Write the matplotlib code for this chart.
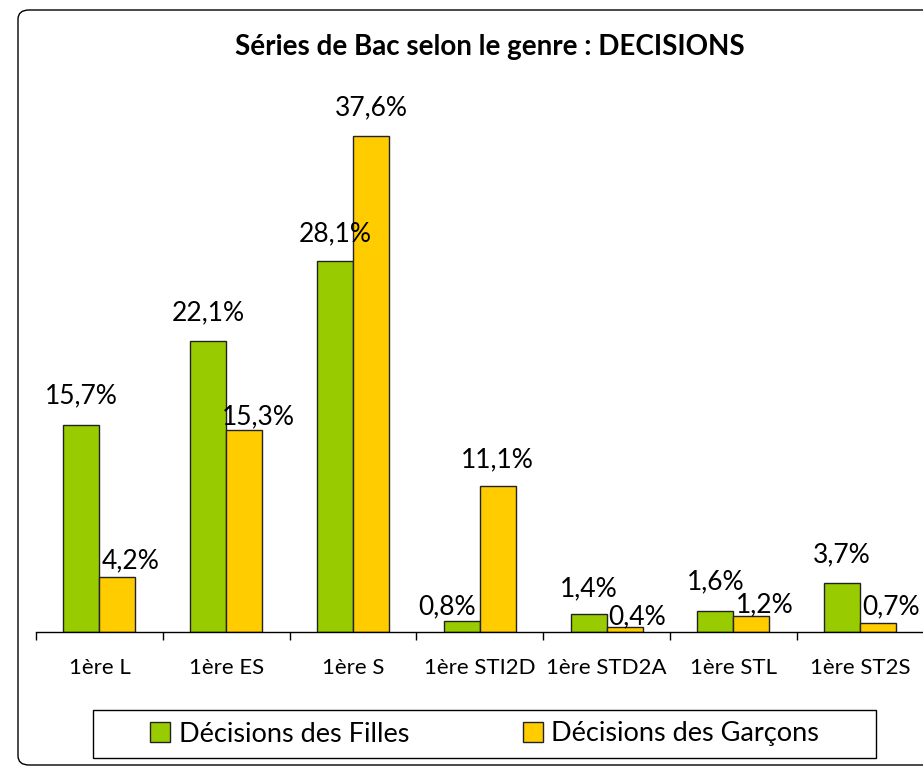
import numpy as np
import matplotlib.pyplot as plt
from matplotlib.patches import FancyBboxPatch, Rectangle

# data ------------------------------------------------------------------------

categories = ['1ère L', '1ère ES', '1ère S', '1ère STI2D', '1ère STD2A', '1ère STL', '1ère ST2S']
filles = [15.7, 22.1, 28.1, 0.8, 1.4, 1.6, 3.7]
garcons = [4.2, 15.3, 37.6, 11.1, 0.4, 1.2, 0.7]
series_names = ['Décisions des Filles', 'Décisions des Garçons']
title = 'Séries de Bac selon le genre : DECISIONS'

# label offsets (pixels) as Excel placed them
off_filles = [(0, 29), (0, 28), (0, 28), (-15, 15), (0, 25), (0, 29), (0, 28)]
off_garcons = [(13, 16), (14, 13), (0, 28), (0, 26), (13, 10), (13, 11), (13, 16)]

GREEN = '#99CC00'
YELLOW = '#FFCC00'

plt.rcParams['font.family'] = ['Lato', 'DejaVu Sans']

# plot ------------------------------------------------------------------------

W, H = 923, 768
fig = plt.figure(figsize=(W / 100, H / 100), dpi=100)

# rounded outer frame
frame = FancyBboxPatch((18 / W, 3 / H), (W + 20 - 18) / W, (758 - 3) / H,
                       boxstyle='round,pad=0,rounding_size=0.012',
                       transform=fig.transFigure, fill=False,
                       edgecolor='black', linewidth=1.0)
fig.patches.append(frame)

ymax = 40
pxper = 13.19
ax = fig.add_axes([36 / W, 136 / H, 887.6 / W, ymax * pxper / H])

x = np.arange(len(categories))
bw = 36 / 126.8
b1 = ax.bar(x - bw / 2, filles, bw, color=GREEN, edgecolor='#222222', linewidth=1.0)
b2 = ax.bar(x + bw / 2, garcons, bw, color=YELLOW, edgecolor='#222222', linewidth=1.0)

for bars, vals, offs in [(b1, filles, off_filles), (b2, garcons, off_garcons)]:
    for rect, v, (dx, dy) in zip(bars, vals, offs):
        ax.annotate(f'{v:.1f}%'.replace('.', ','),
                    (rect.get_x() + rect.get_width() / 2, rect.get_height()),
                    xytext=(dx * 0.72, dy * 0.72), textcoords='offset points',
                    ha='center', va='center', fontsize=19)

ax.set_xlim(-0.5, len(categories) - 0.5)
ax.set_ylim(0, ymax)
for s in ['top', 'right', 'left']:
    ax.spines[s].set_visible(False)
ax.spines['bottom'].set_linewidth(1.0)
ax.set_yticks([])
ax.set_xticks(x)
ax.set_xticklabels(categories, fontsize=16)
ax.tick_params(axis='x', which='major', length=0, pad=19)
ax.set_xticks(np.arange(len(categories)) - 0.5, minor=True)
ax.tick_params(axis='x', which='minor', length=6, width=1.0)

fig.text(490 / W, 1 - 47 / H, title, ha='center', va='center',
         fontsize=20, fontweight='bold')

# legend with its own box
fig.patches.append(Rectangle((93 / W, 1 - 758 / H), (876 - 93) / W, 48 / H,
                             transform=fig.transFigure, fill=False,
                             edgecolor='black', linewidth=1.0))
leg = fig.legend([b1, b2], series_names, loc='center',
                 bbox_to_anchor=(484.5 / W, 1 - 734 / H), ncol=2,
                 fontsize=19.5, frameon=False,
                 handlelength=0.75, handleheight=0.75, handletextpad=0.3,
                 columnspacing=4.2, borderpad=0.2)

fig.savefig('out.png', dpi=100)
